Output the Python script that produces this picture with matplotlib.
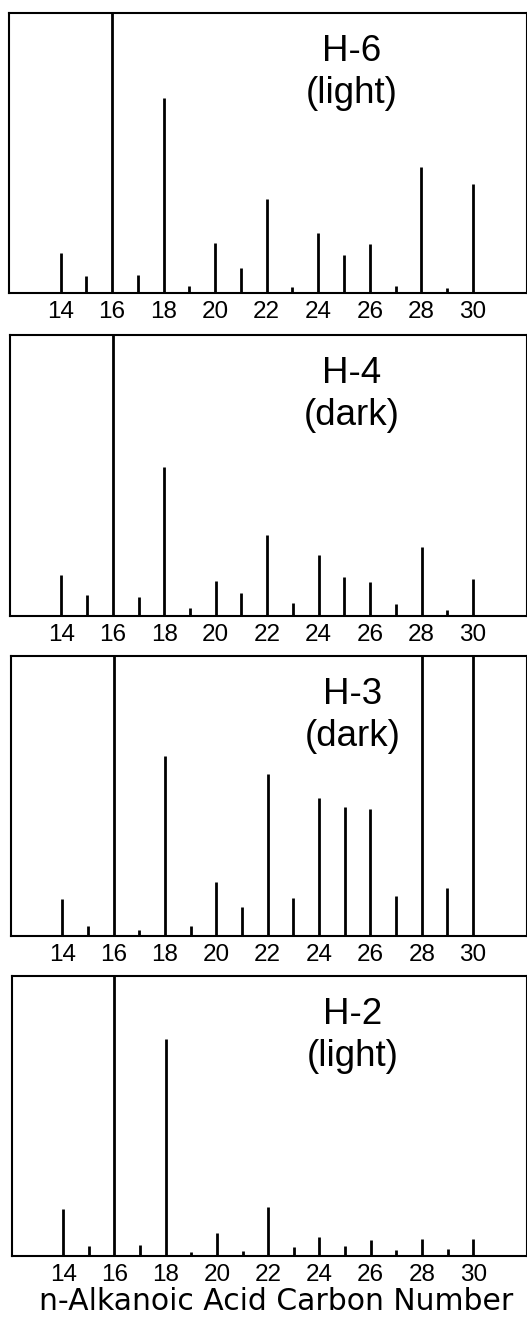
import matplotlib
matplotlib.use("Agg")
import matplotlib.pyplot as plt

plt.rcParams['font.family'] = ['Liberation Sans', 'DejaVu Sans']

carbons = list(range(14, 31))
tick_labels = [14, 16, 18, 20, 22, 24, 26, 28, 30]

# relative abundance, scaled so the tallest peak touches the top of its box
h6 = [0.144, 0.060, 1.0, 0.065, 0.698, 0.026, 0.179, 0.089, 0.337, 0.022,
      0.213, 0.137, 0.174, 0.024, 0.450, 0.017, 0.391]
h4 = [0.145, 0.073, 1.0, 0.069, 0.532, 0.030, 0.126, 0.083, 0.287, 0.046,
      0.216, 0.140, 0.122, 0.044, 0.244, 0.020, 0.131]
h3 = [0.131, 0.037, 1.0, 0.022, 0.642, 0.036, 0.192, 0.103, 0.580, 0.134,
      0.492, 0.459, 0.455, 0.144, 1.0, 0.170, 1.0]
h2 = [0.168, 0.036, 1.0, 0.038, 0.774, 0.016, 0.083, 0.018, 0.176, 0.032,
      0.068, 0.036, 0.058, 0.022, 0.061, 0.024, 0.059]

samples = ["H-6", "H-4", "H-3", "H-2"]
conditions = ["(light)", "(dark)", "(dark)", "(light)"]
series = [h6, h4, h3, h2]

W, H = 527, 1330
fig = plt.figure(figsize=(W / 100, H / 100), dpi=100)

# panel boxes in pixels: (left, top, bottom)
boxes = [(9, 13, 293), (10, 335, 616), (11, 656, 936), (12, 976, 1256)]

for (left, top, bottom), vals, name, cond in zip(boxes, series, samples, conditions):
    ax = fig.add_axes([left / W, 1 - bottom / H, (527 - left) / W, (bottom - top) / H])
    ax.vlines(carbons, 0, vals, color="black", linewidth=2.0)
    ax.set_xlim(12, 32.1)
    ax.set_ylim(0, 1)
    ax.set_yticks([])
    ax.set_xticks(tick_labels)
    ax.set_xticklabels([str(t) for t in tick_labels], fontsize=17.5)
    ax.tick_params(axis="x", length=0, pad=6)
    for s in ax.spines.values():
        s.set_linewidth(1.5)
    ax.text(25.3, 0.864, name, fontsize=26.5, ha="center", va="center",
            transform=ax.get_xaxis_transform())
    ax.text(25.3, 0.714, cond, fontsize=26.5, ha="center", va="center",
            transform=ax.get_xaxis_transform())

fig.text(276 / W, 1 - 1302 / H, "n-Alkanoic Acid Carbon Number",
         fontsize=21.5, ha="center", va="center", family=["DejaVu Sans"])

plt.savefig("out.png", dpi=100)
